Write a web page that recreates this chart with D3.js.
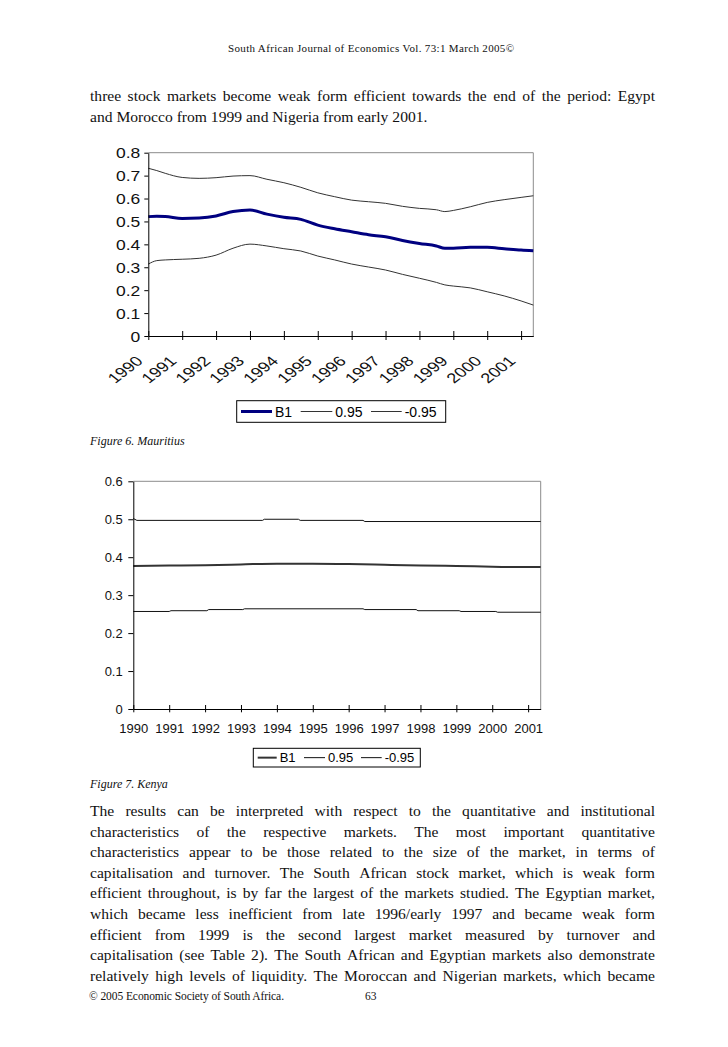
<!DOCTYPE html>
<html>
<head>
<meta charset="utf-8">
<script src="https://cdn.jsdelivr.net/npm/d3@7"></script>
<style>
  body { margin: 0; background: #fff; }
  svg { display: block; }
  .serif { font-family: "Liberation Serif", "Times New Roman", serif; fill: #111; }
  .sans { font-family: "Liberation Sans", Arial, sans-serif; }
</style>
</head>
<body>
<svg id="page" width="728" height="1047"></svg>
<script>
"use strict";

/* Figure 6, Mauritius, half-year steps */
var mauYears = [1990, 1990.25, 1990.5, 1991, 1991.5, 1992, 1992.5, 1993, 1993.5, 1994, 1994.5, 1995,
  1995.5, 1996, 1996.5, 1997, 1997.5, 1998, 1998.5, 1998.75, 1999, 1999.5, 2000, 2000.5, 2001, 2001.36];
var mauB1 = [0.521, 0.523, 0.522, 0.513, 0.515, 0.524, 0.543, 0.550, 0.532, 0.518, 0.509, 0.484,
  0.468, 0.455, 0.442, 0.433, 0.417, 0.404, 0.393, 0.383, 0.383, 0.387, 0.387, 0.381, 0.375, 0.372];
var mauUp = [0.732, 0.722, 0.710, 0.692, 0.688, 0.691, 0.698, 0.700, 0.684, 0.669, 0.649, 0.625,
  0.608, 0.593, 0.586, 0.579, 0.566, 0.557, 0.551, 0.543, 0.548, 0.564, 0.583, 0.595, 0.605, 0.612];
var mauLo = [0.314, 0.329, 0.332, 0.335, 0.339, 0.353, 0.383, 0.401, 0.393, 0.381, 0.371, 0.349,
  0.332, 0.314, 0.301, 0.288, 0.269, 0.252, 0.234, 0.223, 0.218, 0.210, 0.193, 0.175, 0.153, 0.135];

/* Figure 7, Kenya */
var kenB1Years = [1990, 1991, 1992, 1993, 1994, 1995, 1996, 1997, 1998, 1999, 2000, 2001, 2001.35];
var kenB1 = [0.377, 0.378, 0.379, 0.381, 0.383, 0.383, 0.382, 0.380, 0.378, 0.377, 0.375, 0.374, 0.374];
var kenUpYears = [1990, 1990.1, 1993.6, 1993.65, 1994.6, 1994.65, 1996.4, 1996.45, 2001.35];
var kenUp = [0.502, 0.497, 0.497, 0.500, 0.500, 0.497, 0.497, 0.494, 0.494];
var kenLoYears = [1990, 1991.0, 1991.05, 1992.05, 1992.1, 1993.05, 1993.1, 1996.4, 1996.45,
  1997.88, 1997.93, 1999.08, 1999.13, 2000.1, 2000.15, 2001.35];
var kenLo = [0.257, 0.257, 0.259, 0.259, 0.262, 0.262, 0.264, 0.264, 0.262,
  0.262, 0.259, 0.259, 0.257, 0.257, 0.255, 0.255];

var yearTicks = [1990, 1991, 1992, 1993, 1994, 1995, 1996, 1997, 1998, 1999, 2000, 2001];
var mauYTicks = [0, 0.1, 0.2, 0.3, 0.4, 0.5, 0.6, 0.7, 0.8];
var kenYTicks = [0, 0.1, 0.2, 0.3, 0.4, 0.5, 0.6];
var legendNames = ["B1", "0.95", "-0.95"];

var headerText = "South African Journal of Economics  Vol. 73:1 March 2005\u00a9";
var topLines = [
  "three stock markets become weak form efficient towards the end of the period: Egypt",
  "and Morocco from 1999 and Nigeria from early 2001."
];
var bodyLines = [
  "The results can be interpreted with respect to the quantitative and institutional",
  "characteristics of the respective markets. The most important quantitative",
  "characteristics appear to be those related to the size of the market, in terms of",
  "capitalisation and turnover. The South African stock market, which is weak form",
  "efficient throughout, is by far the largest of the markets studied. The Egyptian market,",
  "which became less inefficient from late 1996/early 1997 and became weak form",
  "efficient from 1999 is the second largest market measured by turnover and",
  "capitalisation (see Table 2). The South African and Egyptian markets also demonstrate",
  "relatively high levels of liquidity. The Moroccan and Nigerian markets, which became"
];

var svg = d3.select("#page");
svg.append("rect").attr("width", 728).attr("height", 1047).attr("fill", "#fff");

/* ---------- text helpers ---------- */
var bodySize = 15.6;
var probe = svg.append("text").attr("class", "serif").style("font-size", bodySize + "px").attr("x", -999);
function wordWidth(w) { probe.text(w); return probe.node().getComputedTextLength(); }

function paragraph(lines, x0, x1, y0, lh, lastJustified) {
  var g = svg.append("g").attr("class", "serif").style("font-size", bodySize + "px");
  var space = wordWidth("a a") - wordWidth("aa");
  lines.forEach(function(line, i) {
    var words = line.split(" ");
    var widths = words.map(wordWidth);
    var total = d3.sum(widths);
    var justify = (i < lines.length - 1) || lastJustified;
    var gap = justify ? (x1 - x0 - total) / (words.length - 1) : space;
    var squeeze = 1;
    if (gap < 2) {  // line too long for the font: squeeze it a little
      gap = 2;
      squeeze = (x1 - x0 - gap * (words.length - 1)) / total;
    }
    var t = g.append("text").attr("y", y0 + i * lh);
    var x = x0;
    words.forEach(function(w, j) {
      var s = t.append("tspan").attr("x", x).text(w);
      if (squeeze < 1) s.attr("textLength", widths[j] * squeeze);
      x += widths[j] * squeeze + gap;
    });
  });
}

/* header, paragraphs, captions, footer */
svg.append("text").attr("class", "serif").attr("x", 228).attr("y", 52)
  .attr("textLength", 286).style("font-size", "11px").text(headerText);

paragraph(topLines, 90, 655, 101, 20.6, false);
paragraph(bodyLines, 90, 655, 816, 20.6, true);

svg.append("text").attr("class", "serif").attr("x", 90).attr("y", 445)
  .style("font-size", "12px").style("font-style", "italic").text("Figure 6. Mauritius");
svg.append("text").attr("class", "serif").attr("x", 90).attr("y", 788)
  .style("font-size", "12px").style("font-style", "italic").text("Figure 7. Kenya");

svg.append("text").attr("class", "serif").attr("x", 89).attr("y", 1000)
  .attr("textLength", 195).style("font-size", "11.5px").text("\u00a9 2005 Economic Society of South Africa.");
svg.append("text").attr("class", "serif").attr("x", 365).attr("y", 1000)
  .style("font-size", "11.5px").text("63");

/* ---------- shared chart bits ---------- */
function zip(xs, ys) { return xs.map(function(d, i) { return [d, ys[i]]; }); }

function frame(g, x, y) {
  var x1 = x.range()[1], yTop = y.range()[1];
  g.append("line").attr("x1", x.range()[0]).attr("x2", x1).attr("y1", yTop).attr("y2", yTop)
    .attr("stroke", "#8c8c8c").attr("stroke-width", 1);
  g.append("line").attr("x1", x1).attr("x2", x1).attr("y1", yTop).attr("y2", y.range()[0])
    .attr("stroke", "#8c8c8c").attr("stroke-width", 1);
}

function legend(g, box, styles, fs) {
  var lg = g.append("g").attr("class", "sans").style("font-size", fs + "px");
  lg.append("rect").attr("x", box.x).attr("y", box.y).attr("width", box.w).attr("height", box.h)
    .attr("fill", "#fff").attr("stroke", "#000").attr("stroke-width", 1);
  var cy = box.y + box.h / 2;
  legendNames.forEach(function(name, i) {
    var s = styles[i];
    lg.append("line").attr("x1", s.x).attr("x2", s.x + s.len).attr("y1", cy).attr("y2", cy)
      .attr("stroke", s.color).attr("stroke-width", s.width);
    lg.append("text").attr("x", s.x + s.len + 3).attr("y", cy).attr("dy", "0.36em")
      .attr("fill", "#000").text(name);
  });
}

/* ---------- Figure 6: Mauritius ---------- */
(function() {
  var x = d3.scaleLinear().domain([1990, 2001.36]).range([148.3, 533.3]);
  var y = d3.scaleLinear().domain([0, 0.8]).range([336, 152.7]);
  var g = svg.append("g").attr("class", "sans");

  frame(g, x, y);

  var line = d3.line().curve(d3.curveMonotoneX)
    .x(function(d) { return x(d[0]); }).y(function(d) { return y(d[1]); });

  g.append("path").datum(zip(mauYears, mauUp)).attr("d", line)
    .attr("fill", "none").attr("stroke", "#333").attr("stroke-width", 1);
  g.append("path").datum(zip(mauYears, mauLo)).attr("d", line)
    .attr("fill", "none").attr("stroke", "#333").attr("stroke-width", 1);
  g.append("path").datum(zip(mauYears, mauB1)).attr("d", line)
    .attr("fill", "none").attr("stroke", "#000080").attr("stroke-width", 3);

  var yAxis = g.append("g").attr("transform", "translate(" + x.range()[0] + ",0)")
    .call(d3.axisLeft(y).tickValues(mauYTicks).tickFormat(d3.format("")).tickSize(4).tickSizeOuter(0));
  yAxis.selectAll(".tick text")
    .attr("x", 0).attr("dy", "0.36em")
    .attr("transform", "translate(-8,0) scale(1.25,1)")
    .style("font-size", "14px").attr("fill", "#111");

  var xAxis = g.append("g").attr("transform", "translate(0," + y.range()[0] + ")")
    .call(d3.axisBottom(x).tickValues(yearTicks).tickFormat(d3.format("d")).tickSize(4).tickSizeOuter(0));
  xAxis.selectAll(".tick").append("line").attr("y2", -5).attr("stroke", "currentColor");
  xAxis.selectAll(".tick text")
    .attr("x", 0).attr("y", 0).attr("dy", 0)
    .attr("text-anchor", "end")
    .attr("transform", "translate(-5,26) scale(1.3,1) rotate(-45)")
    .style("font-size", "14px").attr("fill", "#111");
  g.selectAll(".domain").attr("stroke", "#000");

  legend(g, { x: 236.7, y: 400.7, w: 209, h: 21.6 }, [
    { x: 241, len: 31, color: "#000080", width: 3 },
    { x: 300.7, len: 31.6, color: "#333", width: 1 },
    { x: 371, len: 30.7, color: "#333", width: 1 }
  ], 14);
})();

/* ---------- Figure 7: Kenya ---------- */
(function() {
  var x = d3.scaleLinear().domain([1990, 2001.35]).range([133.3, 540.7]);
  var y = d3.scaleLinear().domain([0, 0.6]).range([709, 481.3]);
  var g = svg.append("g").attr("class", "sans");

  frame(g, x, y);

  var line = d3.line()
    .x(function(d) { return x(d[0]); }).y(function(d) { return y(d[1]); });

  g.append("path").datum(zip(kenUpYears, kenUp)).attr("d", line)
    .attr("fill", "none").attr("stroke", "#111").attr("stroke-width", 1);
  g.append("path").datum(zip(kenLoYears, kenLo)).attr("d", line)
    .attr("fill", "none").attr("stroke", "#111").attr("stroke-width", 1);
  g.append("path").datum(zip(kenB1Years, kenB1)).attr("d", line.curve(d3.curveMonotoneX))
    .attr("fill", "none").attr("stroke", "#333").attr("stroke-width", 2);

  var yAxis = g.append("g").attr("transform", "translate(" + x.range()[0] + ",0)")
    .call(d3.axisLeft(y).tickValues(kenYTicks).tickFormat(d3.format("")).tickSize(5).tickSizeOuter(0));
  yAxis.selectAll(".tick text").attr("x", -10.6).attr("dy", "0.36em")
    .style("font-size", "13px").attr("fill", "#111");

  var xAxis = g.append("g").attr("transform", "translate(0," + y.range()[0] + ")")
    .call(d3.axisBottom(x).tickValues(yearTicks).tickFormat(d3.format("d")).tickSize(3.3).tickSizeOuter(0));
  xAxis.selectAll(".tick").append("line").attr("y2", -4).attr("stroke", "currentColor");
  xAxis.selectAll(".tick text").attr("y", 24.3).attr("dy", 0)
    .style("font-size", "13px").attr("fill", "#111");
  g.selectAll(".domain").attr("stroke", "#000");

  legend(g, { x: 253.3, y: 748.3, w: 167, h: 18.7 }, [
    { x: 257.7, len: 19, color: "#333", width: 2 },
    { x: 304, len: 21, color: "#111", width: 1 },
    { x: 361, len: 20.7, color: "#111", width: 1 }
  ], 13);
})();

probe.remove();
</script>
</body>
</html>
